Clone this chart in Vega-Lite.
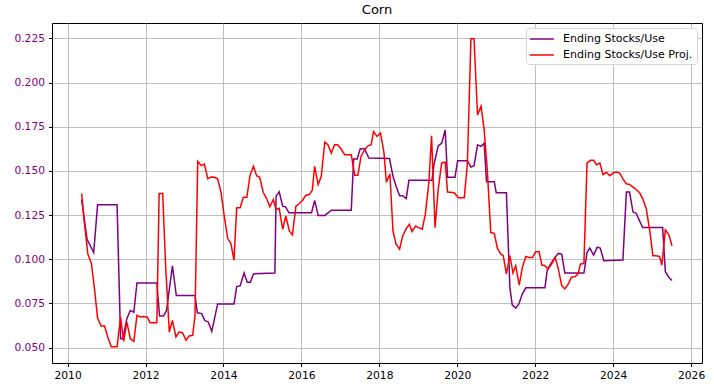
{
"$schema": "https://vega.github.io/schema/vega-lite/v6.json",
"width": 650, "height": 340,
"autosize": {"type": "none"},
"padding": {"left": 52, "top": 23, "right": 12, "bottom": 26},
"background": "white",
"title": {"text": "Corn", "fontSize": 13, "fontWeight": "normal", "font": "DejaVu Sans", "color": "black", "offset": 6},
"config": {
  "view": {"stroke": "black", "strokeWidth": 1},
  "axis": {"labelFont": "DejaVu Sans", "labelFontSize": 10.7, "labelColor": "black", "tickColor": "black", "tickSize": 3.5, "labelPadding": 4, "domain": false, "gridColor": "#b0b0b0", "gridWidth": 0.8, "title": null},
  "legend": {"labelFont": "DejaVu Sans", "labelFontSize": 11, "labelColor": "black"}
},
"datasets": {
  "a": [
{"t":2010.36,"v":0.1338},{"t":2010.50,"v":0.1113},{"t":2010.67,"v":0.1038},{"t":2010.77,"v":0.1308},{"t":2011.27,"v":0.1308},{"t":2011.36,"v":0.0550},{"t":2011.42,"v":0.0550},{"t":2011.52,"v":0.0663},{"t":2011.61,"v":0.0710},{"t":2011.70,"v":0.0700},{"t":2011.78,"v":0.0866},{"t":2012.29,"v":0.0866},{"t":2012.36,"v":0.0678},{"t":2012.46,"v":0.0678},{"t":2012.54,"v":0.0710},{"t":2012.69,"v":0.0963},{"t":2012.79,"v":0.0794},{"t":2013.27,"v":0.0794},{"t":2013.33,"v":0.0697},{"t":2013.44,"v":0.0692},{"t":2013.52,"v":0.0654},{"t":2013.61,"v":0.0645},{"t":2013.70,"v":0.0592},{"t":2013.85,"v":0.0747},{"t":2014.27,"v":0.0747},{"t":2014.34,"v":0.0845},{"t":2014.43,"v":0.0850},{"t":2014.53,"v":0.0922},{"t":2014.61,"v":0.0870},{"t":2014.69,"v":0.0870},{"t":2014.77,"v":0.0917},{"t":2015.32,"v":0.0922},{"t":2015.35,"v":0.1357},{"t":2015.43,"v":0.1382},{"t":2015.52,"v":0.1300},{"t":2015.60,"v":0.1295},{"t":2015.68,"v":0.1263},{"t":2016.26,"v":0.1263},{"t":2016.34,"v":0.1333},{"t":2016.43,"v":0.1248},{"t":2016.60,"v":0.1248},{"t":2016.77,"v":0.1278},{"t":2017.28,"v":0.1278},{"t":2017.34,"v":0.1567},{"t":2017.43,"v":0.1567},{"t":2017.51,"v":0.1625},{"t":2017.62,"v":0.1625},{"t":2017.73,"v":0.1573},{"t":2018.26,"v":0.1570},{"t":2018.35,"v":0.1470},{"t":2018.43,"v":0.1413},{"t":2018.52,"v":0.1360},{"t":2018.60,"v":0.1360},{"t":2018.69,"v":0.1344},{"t":2018.76,"v":0.1447},{"t":2019.35,"v":0.1447},{"t":2019.41,"v":0.1545},{"t":2019.51,"v":0.1642},{"t":2019.60,"v":0.1657},{"t":2019.69,"v":0.1732},{"t":2019.75,"v":0.1464},{"t":2019.94,"v":0.1464},{"t":2020.01,"v":0.1558},{"t":2020.26,"v":0.1558},{"t":2020.35,"v":0.1522},{"t":2020.43,"v":0.1530},{"t":2020.52,"v":0.1648},{"t":2020.61,"v":0.1639},{"t":2020.69,"v":0.1657},{"t":2020.75,"v":0.1438},{"t":2020.95,"v":0.1438},{"t":2021.00,"v":0.1376},{"t":2021.26,"v":0.1376},{"t":2021.35,"v":0.0841},{"t":2021.41,"v":0.0742},{"t":2021.50,"v":0.0723},{"t":2021.58,"v":0.0747},{"t":2021.67,"v":0.0804},{"t":2021.76,"v":0.0838},{"t":2022.25,"v":0.0838},{"t":2022.31,"v":0.0941},{"t":2022.42,"v":0.0982},{"t":2022.51,"v":0.1010},{"t":2022.59,"v":0.1033},{"t":2022.68,"v":0.1029},{"t":2022.76,"v":0.0922},{"t":2023.25,"v":0.0922},{"t":2023.33,"v":0.1038},{"t":2023.40,"v":0.1063},{"t":2023.50,"v":0.1023},{"t":2023.59,"v":0.1068},{"t":2023.67,"v":0.1063},{"t":2023.76,"v":0.0991},{"t":2024.25,"v":0.0995},{"t":2024.34,"v":0.1380},{"t":2024.42,"v":0.1380},{"t":2024.51,"v":0.1267},{"t":2024.59,"v":0.1260},{"t":2024.68,"v":0.1216},{"t":2024.76,"v":0.1179},{"t":2025.27,"v":0.1179},{"t":2025.34,"v":0.0929},{"t":2025.43,"v":0.0898},{"t":2025.51,"v":0.0879}
  ],
  "b": [
{"t":2010.36,"v":0.1372},{"t":2010.43,"v":0.1207},{"t":2010.52,"v":0.1029},{"t":2010.61,"v":0.0978},{"t":2010.69,"v":0.0832},{"t":2010.77,"v":0.0667},{"t":2010.86,"v":0.0622},{"t":2010.95,"v":0.0622},{"t":2011.03,"v":0.0560},{"t":2011.12,"v":0.0504},{"t":2011.27,"v":0.0504},{"t":2011.36,"v":0.0673},{"t":2011.44,"v":0.0535},{"t":2011.52,"v":0.0645},{"t":2011.61,"v":0.0550},{"t":2011.70,"v":0.0535},{"t":2011.78,"v":0.0682},{"t":2011.87,"v":0.0673},{"t":2011.95,"v":0.0676},{"t":2012.04,"v":0.0673},{"t":2012.12,"v":0.0641},{"t":2012.29,"v":0.0641},{"t":2012.35,"v":0.1372},{"t":2012.44,"v":0.1372},{"t":2012.52,"v":0.0944},{"t":2012.61,"v":0.0588},{"t":2012.69,"v":0.0654},{"t":2012.78,"v":0.0560},{"t":2012.86,"v":0.0588},{"t":2012.95,"v":0.0584},{"t":2013.04,"v":0.0541},{"t":2013.12,"v":0.0566},{"t":2013.21,"v":0.0569},{"t":2013.27,"v":0.0682},{"t":2013.34,"v":0.1554},{"t":2013.43,"v":0.1530},{"t":2013.51,"v":0.1539},{"t":2013.60,"v":0.1455},{"t":2013.68,"v":0.1466},{"t":2013.77,"v":0.1464},{"t":2013.85,"v":0.1455},{"t":2013.94,"v":0.1376},{"t":2014.02,"v":0.1244},{"t":2014.11,"v":0.1117},{"t":2014.19,"v":0.1090},{"t":2014.27,"v":0.0995},{"t":2014.34,"v":0.1291},{"t":2014.43,"v":0.1291},{"t":2014.51,"v":0.1351},{"t":2014.60,"v":0.1351},{"t":2014.68,"v":0.1473},{"t":2014.77,"v":0.1526},{"t":2014.85,"v":0.1473},{"t":2014.93,"v":0.1464},{"t":2015.02,"v":0.1379},{"t":2015.11,"v":0.1342},{"t":2015.19,"v":0.1297},{"t":2015.28,"v":0.1338},{"t":2015.35,"v":0.1282},{"t":2015.43,"v":0.1288},{"t":2015.52,"v":0.1170},{"t":2015.60,"v":0.1245},{"t":2015.69,"v":0.1160},{"t":2015.77,"v":0.1138},{"t":2015.86,"v":0.1300},{"t":2015.94,"v":0.1314},{"t":2016.03,"v":0.1334},{"t":2016.11,"v":0.1361},{"t":2016.20,"v":0.1366},{"t":2016.28,"v":0.1391},{"t":2016.34,"v":0.1526},{"t":2016.43,"v":0.1423},{"t":2016.51,"v":0.1470},{"t":2016.60,"v":0.1663},{"t":2016.68,"v":0.1648},{"t":2016.77,"v":0.1601},{"t":2016.85,"v":0.1648},{"t":2016.93,"v":0.1648},{"t":2017.02,"v":0.1624},{"t":2017.11,"v":0.1592},{"t":2017.28,"v":0.1592},{"t":2017.37,"v":0.1475},{"t":2017.45,"v":0.1475},{"t":2017.53,"v":0.1582},{"t":2017.62,"v":0.1620},{"t":2017.71,"v":0.1642},{"t":2017.79,"v":0.1648},{"t":2017.85,"v":0.1723},{"t":2017.94,"v":0.1695},{"t":2018.03,"v":0.1714},{"t":2018.12,"v":0.1601},{"t":2018.18,"v":0.1436},{"t":2018.27,"v":0.1483},{"t":2018.35,"v":0.1160},{"t":2018.43,"v":0.1085},{"t":2018.52,"v":0.1057},{"t":2018.60,"v":0.1132},{"t":2018.69,"v":0.1173},{"t":2018.77,"v":0.1198},{"t":2018.84,"v":0.1157},{"t":2018.93,"v":0.1188},{"t":2019.01,"v":0.1179},{"t":2019.10,"v":0.1170},{"t":2019.18,"v":0.1254},{"t":2019.27,"v":0.1432},{"t":2019.34,"v":0.1699},{"t":2019.43,"v":0.1179},{"t":2019.51,"v":0.1394},{"t":2019.60,"v":0.1545},{"t":2019.69,"v":0.1550},{"t":2019.75,"v":0.1380},{"t":2019.92,"v":0.1376},{"t":2020.03,"v":0.1348},{"t":2020.18,"v":0.1348},{"t":2020.26,"v":0.1545},{"t":2020.35,"v":0.2248},{"t":2020.43,"v":0.2248},{"t":2020.52,"v":0.1817},{"t":2020.61,"v":0.1867},{"t":2020.69,"v":0.1732},{"t":2020.77,"v":0.1507},{"t":2020.86,"v":0.1151},{"t":2020.95,"v":0.1147},{"t":2021.03,"v":0.1061},{"t":2021.12,"v":0.1029},{"t":2021.18,"v":0.1020},{"t":2021.26,"v":0.0917},{"t":2021.35,"v":0.1020},{"t":2021.43,"v":0.0922},{"t":2021.50,"v":0.0963},{"t":2021.59,"v":0.0854},{"t":2021.67,"v":0.0954},{"t":2021.76,"v":0.1016},{"t":2021.84,"v":0.1010},{"t":2021.93,"v":0.1010},{"t":2022.01,"v":0.1042},{"t":2022.10,"v":0.1042},{"t":2022.17,"v":0.0967},{"t":2022.25,"v":0.0963},{"t":2022.33,"v":0.0944},{"t":2022.42,"v":0.0972},{"t":2022.51,"v":0.1010},{"t":2022.59,"v":0.0948},{"t":2022.68,"v":0.0850},{"t":2022.76,"v":0.0832},{"t":2022.85,"v":0.0860},{"t":2022.93,"v":0.0898},{"t":2023.02,"v":0.0901},{"t":2023.10,"v":0.0917},{"t":2023.16,"v":0.0972},{"t":2023.25,"v":0.0977},{"t":2023.33,"v":0.1545},{"t":2023.42,"v":0.1560},{"t":2023.50,"v":0.1560},{"t":2023.57,"v":0.1535},{"t":2023.66,"v":0.1545},{"t":2023.74,"v":0.1479},{"t":2023.83,"v":0.1492},{"t":2023.91,"v":0.1473},{"t":2024.00,"v":0.1488},{"t":2024.08,"v":0.1494},{"t":2024.17,"v":0.1488},{"t":2024.25,"v":0.1455},{"t":2024.34,"v":0.1427},{"t":2024.42,"v":0.1423},{"t":2024.51,"v":0.1408},{"t":2024.59,"v":0.1395},{"t":2024.68,"v":0.1376},{"t":2024.76,"v":0.1342},{"t":2024.85,"v":0.1286},{"t":2024.94,"v":0.1160},{"t":2025.02,"v":0.1020},{"t":2025.10,"v":0.1020},{"t":2025.19,"v":0.1016},{"t":2025.25,"v":0.0967},{"t":2025.34,"v":0.1166},{"t":2025.43,"v":0.1138},{"t":2025.51,"v":0.1076}
  ]
},
"encoding": {
  "x": {"field": "t", "type": "quantitative", "scale": {"domain": [2009.6, 2026.28], "nice": false, "zero": false}, "axis": {"values": [2010,2012,2014,2016,2018,2020,2022,2024,2026], "format": "d", "grid": true}},
  "y": {"field": "v", "type": "quantitative", "scale": {"domain": [0.04125, 0.23375], "nice": false, "zero": false}, "axis": {"values": [0.05,0.075,0.1,0.125,0.15,0.175,0.2,0.225], "format": ".3f", "labelColor": "#800080", "grid": true}}
},
"layer": [
  {"data": {"name": "a"}, "mark": {"type": "line", "strokeWidth": 1.5, "interpolate": "linear"},
   "encoding": {"color": {"datum": "Ending Stocks/Use", "type": "nominal",
     "scale": {"domain": ["Ending Stocks/Use", "Ending Stocks/Use Proj."], "range": ["#800080", "#ff0000"]},
     "legend": {"title": null, "orient": "top-right", "offset": 5, "symbolType": "M-1.2,0H2.8", "symbolSize": 144, "symbolStrokeWidth": 1.5, "strokeColor": "#d6d6d6", "fillColor": "white", "padding": 4, "cornerRadius": 3, "rowPadding": 4, "labelOffset": 19}}}},
  {"data": {"name": "b"}, "mark": {"type": "line", "strokeWidth": 1.5, "interpolate": "linear"},
   "encoding": {"color": {"datum": "Ending Stocks/Use Proj.", "type": "nominal"}}}
]
}
